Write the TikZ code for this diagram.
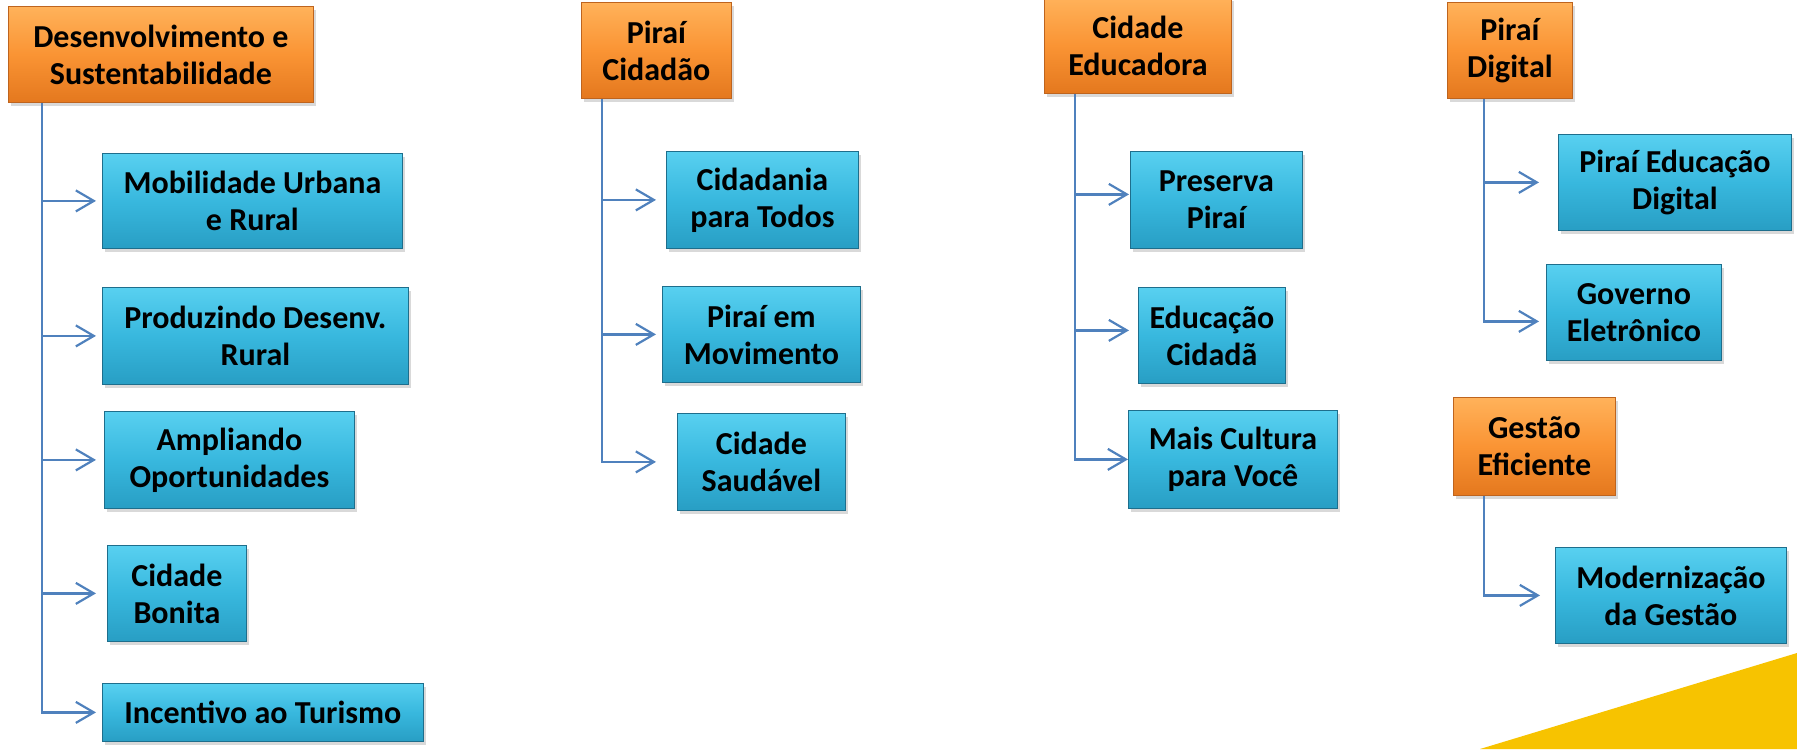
\documentclass[tikz,border=0pt]{standalone}
\usepackage{fontspec}
\setmainfont{Carlito}
\usetikzlibrary{arrows.meta,shadows}

\definecolor{laranjaA}{RGB}{255,178,90}
\definecolor{laranjaB}{RGB}{250,148,52}
\definecolor{laranjaC}{RGB}{228,120,30}
\definecolor{laranjaL}{RGB}{190,100,30}
\definecolor{azulA}{RGB}{88,208,240}
\definecolor{azulB}{RGB}{56,184,222}
\definecolor{azulC}{RGB}{40,158,196}
\definecolor{azulL}{RGB}{30,110,140}
\definecolor{ligacao}{RGB}{79,129,189}
\definecolor{amarelo}{RGB}{247,195,0}

\tikzset{
	tema/.style={rectangle, draw=laranjaL, line width=0.4pt, top color=laranjaA, bottom color=laranjaC, middle color=laranjaB, anchor=north west, inner sep=0pt, align=center, font=\bfseries\fontsize{16}{18.5}\selectfont, drop shadow={shadow xshift=1.2pt, shadow yshift=-1.6pt, opacity=0.3}},
	acao/.style={rectangle, draw=azulL, line width=0.4pt, top color=azulA, bottom color=azulC, middle color=azulB, anchor=north west, inner sep=0pt, align=center, font=\bfseries\fontsize{16}{18.5}\selectfont, drop shadow={shadow xshift=1.2pt, shadow yshift=-1.6pt, opacity=0.3}},
	liga/.style={draw=ligacao, line width=1.1pt, -{Straight Barb[length=9pt,width=10.5pt]}, shorten >=#1},
	liga/.default=3pt
}

\begin{document}
\begin{tikzpicture}[x=0.5pt,y=-0.5pt]
	\useasboundingbox (0,0) rectangle (1797,749);
	
	\fill[amarelo] (1480,749) -- (1797,653) -- (1797,749) -- cycle;
	
	\node[tema, minimum width=152.5pt, minimum height=48pt] (des) at (8,6) {Desenvolvimento e\\Sustentabilidade};
	\node[acao, minimum width=150pt, minimum height=47.5pt] (mob) at (102,153) {Mobilidade Urbana\\e Rural};
	\node[acao, minimum width=153pt, minimum height=48.5pt] (pro) at (102,287) {Produzindo Desenv.\\Rural};
	\node[acao, minimum width=125pt, minimum height=48.5pt] (amp) at (104,411) {Ampliando\\Oportunidades};
	\node[acao, minimum width=69.5pt, minimum height=48pt] (bon) at (107,545) {Cidade\\Bonita};
	\node[acao, minimum width=160.5pt, minimum height=29pt] (inc) at (102,683) {Incentivo ao Turismo};
	
	\node[tema, minimum width=75pt, minimum height=48pt] (cid) at (581,2) {Piraí\\Cidadão};
	\node[acao, minimum width=96pt, minimum height=48.5pt] (tod) at (666,151) {Cidadania\\para Todos};
	\node[acao, minimum width=99pt, minimum height=48pt] (mov) at (662,286) {Piraí em\\Movimento};
	\node[acao, minimum width=84pt, minimum height=48.5pt] (sau) at (677,413) {Cidade\\Saudável};
	
	\node[tema, minimum width=93.5pt, minimum height=48pt] (edu) at (1044,-3) {Cidade\\Educadora};
	\node[acao, minimum width=86pt, minimum height=48.5pt] (pre) at (1130,151) {Preserva\\Piraí};
	\node[acao, minimum width=73.5pt, minimum height=48pt] (cda) at (1138,287) {Educação\\Cidadã};
	\node[acao, minimum width=104.5pt, minimum height=49pt] (cul) at (1128,410) {Mais Cultura\\para Você};
	
	\node[tema, minimum width=62.5pt, minimum height=48pt] (dig) at (1447,2) {Piraí\\Digital};
	\node[acao, minimum width=116.5pt, minimum height=48pt] (ped) at (1558,134) {Piraí Educação\\Digital};
	\node[acao, minimum width=87.5pt, minimum height=48pt] (gov) at (1546,264) {Governo\\Eletrônico};
	
	\node[tema, minimum width=81pt, minimum height=49pt] (ges) at (1453,397) {Gestão\\Eficiente};
	\node[acao, minimum width=115.5pt, minimum height=48pt] (mod) at (1555,547) {Modernização\\da Gestão};
	
	\coordinate (dt) at (42,0);
	\draw[liga] (dt |- des.south) |- (inc.west);
	\draw[liga] (dt |- mob.west) -- (mob.west);
	\draw[liga] (dt |- pro.west) -- (pro.west);
	\draw[liga=4pt] (dt |- amp.west) -- (amp.west);
	\draw[liga=5.5pt] (dt |- bon.west) -- (bon.west);
	
	\coordinate (ct) at (602,0);
	\draw[liga=10.5pt] (ct |- cid.south) |- (sau.west);
	\draw[liga=5pt] (ct |- tod.west) -- (tod.west);
	\draw[liga] (ct |- mov.west) -- (mov.west);
	
	\coordinate (et) at (1075,0);
	\coordinate (pre-in) at ([yshift=2.75pt]pre.west);
	\coordinate (cda-in) at ([yshift=2.5pt]cda.west);
	\draw[liga=0pt] (et |- edu.south) |- (cul.west);
	\draw[liga=0.5pt] (et |- pre-in) -- (pre-in);
	\draw[liga=4.5pt] (et |- cda-in) -- (cda-in);
	
	\coordinate (gt) at (1484,0);
	\coordinate (gov-in) at ([yshift=-4.5pt]gov.west);
	\draw[liga=3.5pt] (gt |- dig.south) |- (gov-in);
	\draw[liga=9.5pt] (gt |- ped.west) -- (ped.west);
	\draw[liga=7.5pt] (gt |- ges.south) |- (mod.west);
	
\end{tikzpicture}
\end{document}
